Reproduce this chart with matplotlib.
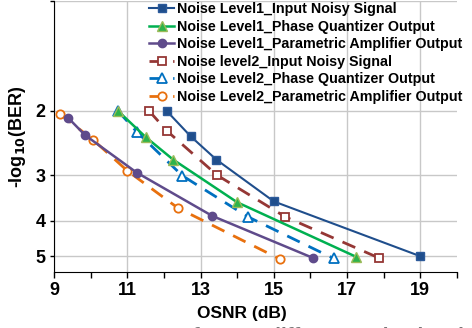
import numpy as np
import matplotlib.pyplot as plt
from matplotlib.ticker import FixedLocator, NullFormatter, NullLocator

plt.rcParams['font.family'] = ['Liberation Sans', 'DejaVu Sans']
plt.rcParams['font.weight'] = 'bold'

# OSNR (dB) and -log10(BER) for each curve
labels = ['Noise Level1_Input Noisy Signal',
          'Noise Level1_Phase Quantizer Output',
          'Noise Level1_Parametric Amplifier Output',
          'Noise level2_Input Noisy Signal',
          'Noise Level2_Phase Quantizer Output',
          'Noise Level2_Parametric Amplifier Output']

osnr_l1_in = [12.07, 12.73, 13.43, 15.0, 19.0]
ber_l1_in = [2.0, 2.35, 2.72, 3.54, 5.0]

osnr_l1_pq = [10.74, 11.5, 12.25, 14.0, 17.25]
ber_l1_pq = [2.0, 2.36, 2.72, 3.56, 5.02]

osnr_l1_pa = [9.38, 9.84, 11.25, 13.32, 16.08]
ber_l1_pa = [2.09, 2.33, 2.95, 3.88, 5.06]

osnr_l2_in = [11.59, 12.08, 13.45, 15.31, 17.86]
ber_l2_in = [2.0, 2.27, 3.0, 3.9, 5.05]

osnr_l2_pq = [10.74, 11.25, 12.5, 14.29, 16.63]
ber_l2_pq = [2.0, 2.28, 3.01, 3.9, 5.07]

osnr_l2_pa = [9.16, 10.06, 11.0, 12.38, 15.18]
ber_l2_pa = [2.04, 2.4, 2.92, 3.69, 5.1]

x_ticks = [9, 11, 13, 15, 17, 19]
y_ticks = [1, 2, 3, 4, 5]

fig = plt.figure(figsize=(4.72, 3.28), dpi=100)
ax = fig.add_axes([0.115, 0.171, 0.853, 0.826])

dash = (0, (5, 3.5))
ax.plot(osnr_l1_in, ber_l1_in, '-', color='#1F4E8C', lw=1.5, marker='s', ms=6,
        mfc='#1F4E8C', mec='#2C5A9A', label=labels[0], zorder=5)
ax.plot(osnr_l1_pq, ber_l1_pq, '-', color='#00B050', lw=1.8, marker='^', ms=7,
        mfc='#2DB34A', mec='#9BBB59', label=labels[1], zorder=5)
ax.plot(osnr_l1_pa, ber_l1_pa, '-', color='#5F4B8B', lw=1.8, marker='o', ms=6,
        mfc='#5F4B8B', mec='#5F4B8B', label=labels[2], zorder=5)
ax.plot(osnr_l2_in, ber_l2_in, color='#953735', lw=2, ls=dash, marker='s', ms=6,
        mfc='white', mec='#953735', mew=1.3, label=labels[3], zorder=4)
ax.plot(osnr_l2_pq, ber_l2_pq, color='#0070C0', lw=2, ls=dash, marker='^', ms=7,
        mfc='white', mec='#0070C0', mew=1.3, label=labels[4], zorder=4)
ax.plot(osnr_l2_pa, ber_l2_pa, color='#E8700E', lw=2, ls=dash, marker='o', ms=6,
        mfc='white', mec='#E8700E', mew=1.3, label=labels[5], zorder=4)

ax.set_xlim(9, 20)
ax.set_yscale('log')
ax.set_ylim(5.52, 1)
ax.xaxis.set_major_locator(FixedLocator(x_ticks))
ax.xaxis.set_minor_locator(FixedLocator([10, 12, 14, 16, 18, 20]))
ax.yaxis.set_major_locator(FixedLocator(y_ticks))
ax.yaxis.set_minor_locator(NullLocator())
ax.yaxis.set_minor_formatter(NullFormatter())
ax.set_yticklabels(['', '2', '3', '4', '5'])
ax.set_xticklabels([str(t) for t in x_ticks])
ax.tick_params(axis='both', which='major', labelsize=13, length=4, width=1)
ax.tick_params(axis='x', which='minor', length=4, width=1)
ax.tick_params(axis='y', which='major', length=3)
for lab in ax.get_xticklabels() + ax.get_yticklabels():
    lab.set_fontweight('bold')

ax.grid(True, which='major', color='#C8C8C8', lw=1)
ax.set_axisbelow(True)
ax.spines['top'].set_visible(False)
ax.spines['right'].set_visible(False)

ax.set_xlabel('OSNR (dB)', fontsize=12.5, fontweight='bold', labelpad=3)
ax.xaxis.set_label_coords(0.466, -0.125)
ax.set_ylabel('-log$_{10}$(BER)', fontsize=13, fontweight='bold', labelpad=5)

leg = ax.legend(loc='upper right', bbox_to_anchor=(1.025, 1.012), fontsize=10.3,
                frameon=False, handlelength=1.75, handletextpad=0.2,
                labelspacing=0.25, borderpad=0.2, borderaxespad=0.1)
for t in leg.get_texts():
    t.set_fontweight('bold')

# caption of the source figure, cut off at the bottom edge
fig.text(0.005, 0.002, 'BER versus OSNR for two different noise levels',
         fontsize=15, style='italic', color='#777777', va='top', ha='left')

fig.savefig('out.png', dpi=100)
